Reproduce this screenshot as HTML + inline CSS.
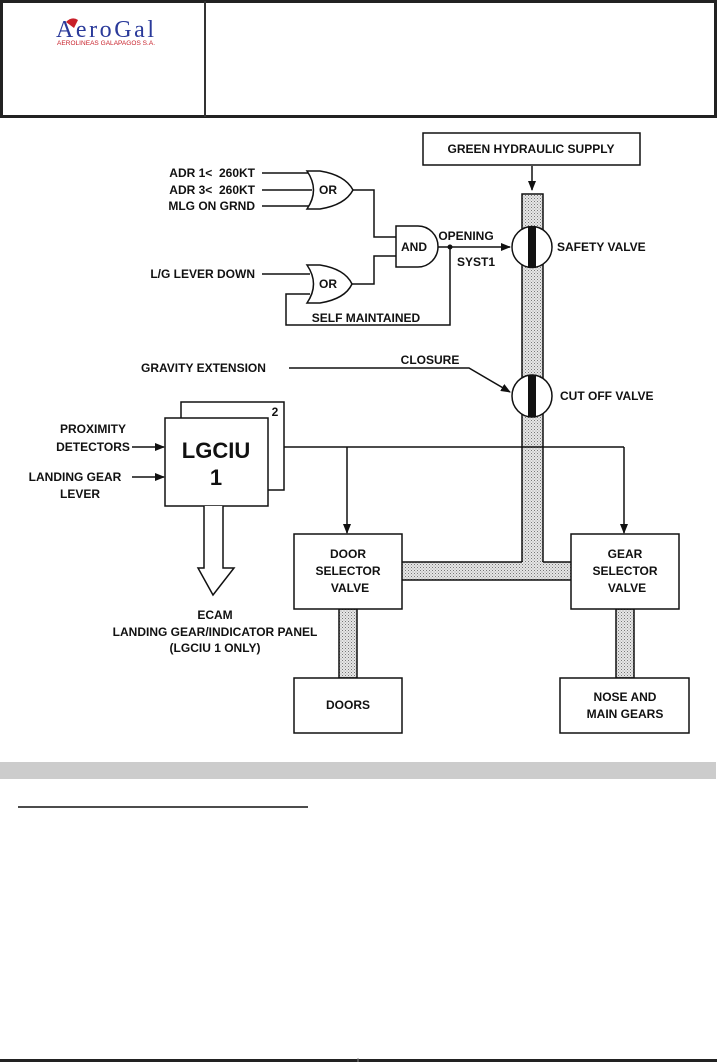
<!DOCTYPE html>
<html><head><meta charset="utf-8"><style>
html,body{margin:0;padding:0;background:#fff;}
svg{display:block;}
text{font-family:"Liberation Sans",sans-serif;font-weight:bold;fill:#111;}
</style></head><body>
<svg width="717" height="1062" viewBox="0 0 717 1062" xmlns="http://www.w3.org/2000/svg">
<defs>
<pattern id="dots" width="3" height="3" patternUnits="userSpaceOnUse">
<rect width="3" height="3" fill="#e6e6e6"/><rect width="1" height="1" fill="#777"/><rect x="1.5" y="1.5" width="1" height="1" fill="#999"/>
</pattern>
<marker id="ah" markerWidth="10" markerHeight="8" refX="9" refY="4" orient="auto" markerUnits="userSpaceOnUse"><path d="M0,0 L10,4 L0,8 z" fill="#111"/></marker>
</defs>
<!-- header -->
<rect x="1.5" y="1.5" width="714" height="115" fill="none" stroke="#222" stroke-width="3"/>
<line x1="205" y1="1" x2="205" y2="117" stroke="#333" stroke-width="2"/>
<text x="56" y="37" style="font-family:'Liberation Serif',serif;font-weight:normal;fill:#2a3a9a;font-size:24px" textLength="98">AeroGal</text>
<path d="M66,22 q6,-6 12,-2 l-4,8 z" fill="#c8202a"/>
<text x="57" y="45" style="font-size:6.5px;fill:#c8202a;font-weight:normal" textLength="98">AEROLINEAS GALAPAGOS S.A.</text>

<g stroke="#111" stroke-width="1.5" fill="none">
<rect x="423" y="133" width="217" height="32" fill="#fff"/>
<line x1="532" y1="166" x2="532" y2="190" marker-end="url(#ah)"/>
<line x1="262" y1="173" x2="310" y2="173"/>
<line x1="262" y1="190" x2="312" y2="190"/>
<line x1="262" y1="206" x2="310" y2="206"/>
<path d="M307,171 Q320,190 307,209 L320,209 Q345,205 353,190 Q345,175 320,171 Z" fill="#fff"/>
<polyline points="353,190 374,190 374,237 396,237"/>
<polyline points="352,284 374,284 374,256 396,256"/>
<path d="M396,226 L418,226 A20,20.5 0 0 1 418,267 L396,267 Z" fill="#fff"/>
<line x1="262" y1="274" x2="310" y2="274"/>
<polyline points="310,294 286,294 286,325 450,325 450,247"/>
<path d="M307,265 Q320,284 307,303 L320,303 Q345,299 352,284 Q345,269 320,265 Z" fill="#fff"/>
<line x1="438" y1="247" x2="510" y2="247" marker-end="url(#ah)"/>
<polyline points="289,368 469,368 510,392" marker-end="url(#ah)"/>
<rect x="522" y="194" width="21" height="368" fill="url(#dots)"/>
<rect x="402" y="562" width="169" height="18" fill="url(#dots)" stroke="none"/>
<rect x="523" y="560" width="19" height="4" fill="url(#dots)" stroke="none"/>
<line x1="402" y1="562" x2="522" y2="562"/><line x1="543" y1="562" x2="571" y2="562"/><line x1="402" y1="580" x2="571" y2="580"/>
<rect x="339" y="609" width="18" height="69" fill="url(#dots)"/>
<rect x="616" y="609" width="18" height="69" fill="url(#dots)"/>
<ellipse cx="532" cy="247" rx="20" ry="20.5" fill="#fff"/>
<rect x="528" y="227" width="8" height="40" fill="#111" stroke="none"/>
<ellipse cx="532" cy="396" rx="20" ry="21" fill="#fff"/>
<rect x="528" y="375" width="8" height="42" fill="#111" stroke="none"/>
<rect x="181" y="402" width="103" height="88" fill="#fff"/>
<rect x="165" y="418" width="103" height="88" fill="#fff"/>
<line x1="132" y1="447" x2="164" y2="447" marker-end="url(#ah)"/>
<line x1="132" y1="477" x2="164" y2="477" marker-end="url(#ah)"/>
<line x1="284" y1="447" x2="624" y2="447"/>
<line x1="347" y1="447" x2="347" y2="533" marker-end="url(#ah)"/>
<line x1="624" y1="447" x2="624" y2="533" marker-end="url(#ah)"/>
<path d="M204,506 L204,568 L198,568 L213,595 L234,568 L223,568 L223,506" fill="#fff"/>
<rect x="294" y="534" width="108" height="75" fill="#fff"/>
<rect x="571" y="534" width="108" height="75" fill="#fff"/>
<rect x="294" y="678" width="108" height="55" fill="#fff"/>
<rect x="560" y="678" width="129" height="55" fill="#fff"/>
</g>
<circle cx="450" cy="247" r="2.5" fill="#111"/>
<g font-size="12">
<text x="531" y="153" text-anchor="middle">GREEN HYDRAULIC SUPPLY</text>
<text x="255" y="177" text-anchor="end">ADR 1&lt;&#160;&#160;260KT</text>
<text x="255" y="194" text-anchor="end">ADR 3&lt;&#160;&#160;260KT</text>
<text x="255" y="210" text-anchor="end">MLG ON GRND</text>
<text x="328" y="194" text-anchor="middle">OR</text>
<text x="328" y="288" text-anchor="middle">OR</text>
<text x="414" y="251" text-anchor="middle">AND</text>
<text x="255" y="278" text-anchor="end">L/G LEVER DOWN</text>
<text x="466" y="240" text-anchor="middle">OPENING</text>
<text x="476" y="266" text-anchor="middle">SYST1</text>
<text x="557" y="251">SAFETY VALVE</text>
<text x="366" y="322" text-anchor="middle">SELF MAINTAINED</text>
<text x="141" y="372">GRAVITY EXTENSION</text>
<text x="430" y="364" text-anchor="middle">CLOSURE</text>
<text x="560" y="400">CUT OFF VALVE</text>
<text x="93" y="433" text-anchor="middle">PROXIMITY</text>
<text x="93" y="451" text-anchor="middle">DETECTORS</text>
<text x="75" y="481" text-anchor="middle">LANDING GEAR</text>
<text x="80" y="498" text-anchor="middle">LEVER</text>
<text x="275" y="416" text-anchor="middle">2</text>
<text x="348" y="558" text-anchor="middle">DOOR</text>
<text x="348" y="575" text-anchor="middle">SELECTOR</text>
<text x="350" y="592" text-anchor="middle">VALVE</text>
<text x="625" y="558" text-anchor="middle">GEAR</text>
<text x="625" y="575" text-anchor="middle">SELECTOR</text>
<text x="627" y="592" text-anchor="middle">VALVE</text>
<text x="348" y="709" text-anchor="middle">DOORS</text>
<text x="625" y="701" text-anchor="middle">NOSE AND</text>
<text x="625" y="718" text-anchor="middle">MAIN GEARS</text>
<text x="215" y="619" text-anchor="middle">ECAM</text>
<text x="215" y="636" text-anchor="middle">LANDING GEAR/INDICATOR PANEL</text>
<text x="215" y="652" text-anchor="middle">(LGCIU 1 ONLY)</text>
</g>
<text x="216" y="458" text-anchor="middle" font-size="22">LGCIU</text>
<text x="216" y="485" text-anchor="middle" font-size="22">1</text>
<rect x="0" y="762" width="716" height="17" fill="#cccccc"/>
<line x1="18" y1="807" x2="308" y2="807" stroke="#111" stroke-width="1.5"/>
<line x1="0" y1="1060.5" x2="717" y2="1060.5" stroke="#222" stroke-width="3"/>
<line x1="358" y1="1058" x2="358" y2="1062" stroke="#888" stroke-width="1"/>
</svg>
</body></html>
